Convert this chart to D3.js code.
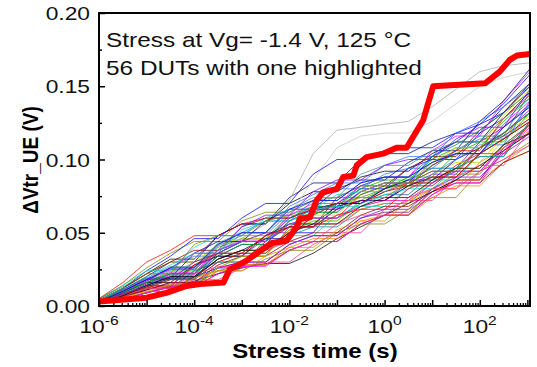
<!DOCTYPE html>
<html><head><meta charset="utf-8">
<script src="https://cdn.jsdelivr.net/npm/d3@7"></script>
<style>body{margin:0;background:#fff}svg text{font-family:"Liberation Sans",Arial,Helvetica,sans-serif}</style>
</head><body><svg id="c" width="537" height="367"></svg>
<script>
// Shared stress-time grid (s) for the 56 thin DUT traces
const times=[1e-6,3.162e-6,1e-5,3.162e-5,1e-4,3.162e-4,1e-3,3.162e-3,1e-2,3.162e-2,0.1,0.3162,1,3.162,10,31.62,100,316.2,1135];
// ΔVtr_UE of each DUT, in mV, at the grid times above
const dutValuesMV=[
[4,12,22,32,32,48,56,56,70,78,78,88,92,92,104,112,112,132,150],
[2,5,9,13,13,22,28,28,38,44,44,56,62,62,76,86,86,106,118],
[2,6,10,10,20,26,26,40,50,50,70,80,80,94,100,100,118,128,146],
[3,9,16,23,23,38,45,45,60,67,67,78,84,84,96,104,104,124,140],
[5,14,26,36,44,44,58,64,64,72,74,74,80,84,84,94,102,102,126],
[4,11,20,30,30,48,56,56,74,84,84,100,104,104,112,118,118,136,152],
[3,8,14,14,27,34,34,46,54,54,66,72,72,82,90,90,108,118,134],
[2,6,11,15,15,26,30,30,42,48,48,60,64,64,78,86,86,108,124],
[3,7,12,12,24,30,30,44,54,54,74,82,82,94,102,102,120,132,152],
[3,7,12,18,18,30,36,36,48,54,54,66,70,70,84,92,92,110,124],
[4,10,18,26,34,34,50,58,58,72,80,80,90,94,94,106,114,114,138],
[3,8,14,20,20,32,38,38,50,56,56,66,70,70,80,86,86,98,106],
[3,9,16,24,24,40,46,46,62,68,68,80,86,86,100,108,108,126,142],
[2,7,12,12,24,30,30,42,48,48,62,68,68,80,86,86,104,114,128],
[4,12,22,30,30,42,46,46,56,60,60,68,72,72,86,94,94,114,128],
[3,8,15,22,30,38,46,56,72,104,120,122,124,126,136,148,160,164,166],
[2,7,14,21,28,35,42,50,62,86,108,116,118,118,126,138,150,156,160],
[2,5,9,13,17,22,26,29,29,36,46,54,62,70,78,86,96,106,118],
[5,16,30,38,48,48,56,60,60,66,70,70,78,84,84,96,104,104,124],
[4,12,24,34,46,46,60,70,70,90,100,100,106,108,108,118,124,132,146],
[3,8,14,21,21,36,44,44,62,70,70,82,88,88,106,116,116,140,160],
[2,5,9,14,14,24,28,28,38,44,44,56,62,62,80,90,90,110,124],
[4,11,19,19,36,44,44,58,66,66,80,86,86,98,106,106,126,140,162],
[3,7,11,16,16,26,30,30,42,48,48,60,66,66,80,88,88,104,116],
[2,8,15,22,22,36,44,50,50,64,70,70,80,86,94,94,112,122,138],
[4,12,22,30,38,38,54,60,60,66,70,70,78,82,82,94,102,102,126],
[2,5,9,14,14,26,34,34,54,64,64,78,84,84,98,106,116,116,146],
[4,10,18,26,26,42,50,50,68,76,84,84,96,102,102,118,126,136,150],
[2,6,10,14,14,24,28,28,40,46,46,58,62,62,74,82,82,98,110],
[3,7,13,19,19,32,38,38,50,58,58,72,80,88,88,104,112,112,132],
[5,14,24,24,40,48,48,60,66,66,76,78,78,86,94,94,108,118,132],
[3,8,14,20,20,32,38,38,52,58,58,70,76,76,90,98,98,116,130],
[2,5,9,13,18,18,26,30,30,42,50,50,66,72,72,88,96,96,120],
[4,10,17,25,25,41,48,48,64,72,72,84,88,88,98,104,104,122,136],
[3,9,16,16,28,34,34,48,56,56,68,72,72,82,88,88,104,114,126],
[2,6,12,18,18,30,36,36,52,60,60,76,82,82,96,106,106,128,144],
[3,8,14,20,20,34,42,42,58,66,66,78,84,84,102,112,124,138,158],
[4,11,18,25,25,38,44,44,56,60,60,68,72,72,84,92,92,108,118],
[3,7,12,12,20,24,24,32,38,38,50,56,56,66,74,74,92,100,112],
[2,7,13,19,19,32,38,46,46,62,70,70,80,86,86,100,108,118,132],
[3,9,17,26,36,36,54,62,62,78,86,86,96,100,100,114,122,122,148],
[4,10,18,18,30,36,36,48,54,54,66,72,72,84,92,92,108,116,128],
[2,6,11,16,16,28,34,34,44,50,50,62,68,68,78,84,84,98,106],
[3,9,16,22,22,36,44,44,60,68,68,82,88,88,102,110,120,132,150],
[3,8,14,22,22,38,44,44,56,60,60,70,76,76,90,100,110,110,140],
[2,6,10,10,19,24,24,34,40,40,52,58,58,72,80,80,98,108,120],
[4,10,16,22,22,34,42,42,58,64,64,76,82,82,96,104,104,118,132],
[4,12,20,28,36,36,52,58,58,66,68,68,76,80,80,94,102,102,126],
[2,5,10,15,15,26,34,34,52,62,62,78,84,84,98,108,108,130,148],
[3,7,12,12,22,27,27,38,44,44,56,62,62,74,80,80,92,100,110],
[4,11,19,27,27,43,50,50,66,74,74,90,96,96,106,112,112,128,142],
[2,7,14,20,20,32,38,38,50,56,56,68,74,74,86,94,94,110,118],
[3,8,13,13,28,36,36,48,54,54,62,66,66,80,88,88,104,114,126],
[3,10,18,26,26,42,50,50,66,72,72,84,88,88,98,104,104,122,136],
[2,5,9,13,13,22,27,27,38,44,44,56,62,62,76,84,84,106,122],
[5,13,22,22,42,48,48,58,62,62,70,74,74,84,92,92,108,118,132]
];
// Highlighted DUT (thick red)
const redTimes=[1e-6,1e-5,2.6e-5,6.9e-5,1.3e-4,4.1e-4,5.6e-4,1.26e-3,2.8e-3,4.3e-3,8.7e-3,1.4e-2,1.66e-2,2.7e-2,3.7e-2,5.1e-2,0.1,0.135,0.22,0.26,0.42,0.93,1.78,2.9,6.5,10.5,129,263,427,603,1135];
const redValuesMV=[3,5.7,9,13.7,15,16,25,31,39,43,44.5,53.6,59.6,60.5,72,77.6,80,88,89,96,101.6,104,108,108,127,150,152,160,168,171,172];
// Axis ticks
const xMajorTicks=[1e-6,1e-5,1e-4,1e-3,1e-2,1e-1,1,1e1,1e2,1e3];
const xLabelTicks=[1e-6,1e-4,1e-2,1,1e2];
const xLabelExps=["-6","-4","-2","0","2"];
const yMajorTicks=[0,0.05,0.10,0.15,0.20];
const yTickLabels=["0.00","0.05","0.10","0.15","0.20"];
const yMinorTicks=[0.025,0.075,0.125,0.175];
const palette=["#000000","#ff0000","#0000ff","#ff00ff","#808000","#000080","#8000ff","#800080","#800000","#008080","#3070ff","#ff8000","#00b000","#00d0d0","#d0d000","#ff3090","#409090"];

const svg=d3.select("#c");
const L=99,R=530,T=13,B=306;
const x=d3.scaleLog().domain([1e-6,1135]).range([L,R]);
const y=d3.scaleLinear().domain([0,0.2]).range([B,T]);

svg.append("defs").append("clipPath").attr("id","clip").append("rect")
  .attr("x",L).attr("y",T).attr("width",R-L).attr("height",B-T);
const plot=svg.append("g").attr("clip-path","url(#clip)");
const line=d3.line().x(d=>x(d[0])).y(d=>y(d[1]/1000));

dutValuesMV.forEach((vals,i)=>{
  let col=palette[i%palette.length];
  if(i===15) col="#a8a8a8";
  if(i===16) col="#c8c8c8";
  plot.append("path").datum(times.map((t,k)=>[t,vals[k]]))
    .attr("d",line).attr("fill","none").attr("stroke",col)
    .attr("stroke-width",1).attr("stroke-opacity",0.75);
});
plot.append("path").datum(redTimes.map((t,k)=>[t,redValuesMV[k]]))
  .attr("d",line).attr("fill","none").attr("stroke","#ff0000")
  .attr("stroke-width",6).attr("stroke-linejoin","round");

// x minor ticks
const xMinor=[];
for(let e=-6;e<3;e++) for(let m=2;m<=9;m++) xMinor.push(m*Math.pow(10,e));
svg.append("g").attr("transform",`translate(0,${B})`)
  .call(d3.axisBottom(x).tickValues(xMinor.filter(v=>v<=1135)).tickSize(-3).tickFormat(""))
  .call(g=>g.select(".domain").remove())
  .call(g=>g.selectAll("line").attr("stroke","#000").attr("stroke-width",1.3));
svg.append("g").attr("transform",`translate(0,${B})`)
  .call(d3.axisBottom(x).tickValues(xMajorTicks).tickSize(-6).tickFormat(""))
  .call(g=>g.select(".domain").remove())
  .call(g=>g.selectAll("line").attr("stroke","#000").attr("stroke-width",1.5));
// y ticks
svg.append("g").attr("transform",`translate(${L},0)`)
  .call(d3.axisLeft(y).tickValues(yMinorTicks).tickSize(-3).tickFormat(""))
  .call(g=>g.select(".domain").remove())
  .call(g=>g.selectAll("line").attr("stroke","#000").attr("stroke-width",1.5));
svg.append("g").attr("transform",`translate(${L},0)`)
  .call(d3.axisLeft(y).tickValues(yMajorTicks).tickSize(-6).tickFormat(""))
  .call(g=>g.select(".domain").remove())
  .call(g=>g.selectAll("line").attr("stroke","#000").attr("stroke-width",1.5));

// frame
svg.append("rect").attr("x",L).attr("y",T).attr("width",R-L).attr("height",B-T)
  .attr("fill","none").attr("stroke","#000").attr("stroke-width",2);

// y tick labels
yMajorTicks.forEach((v,i)=>{
  svg.append("text").attr("transform",`translate(90,${y(v)+7}) scale(1.2,1)`)
    .attr("text-anchor","end").attr("font-size",19).attr("fill","#111").text(yTickLabels[i]);
});
// x tick labels
xLabelTicks.forEach((v,i)=>{
  const t=svg.append("text").attr("transform",`translate(${x(v)},333) scale(1.2,1)`)
    .attr("text-anchor","middle").attr("font-size",19).attr("fill","#111");
  t.append("tspan").text("10");
  t.append("tspan").attr("font-size",13).attr("dy",-8).text(xLabelExps[i]);
});
// axis titles
svg.append("text").attr("transform","translate(315,358) scale(1.2,1)")
  .attr("text-anchor","middle").attr("font-size",20).attr("font-weight","bold").text("Stress time (s)");
svg.append("text").attr("transform","translate(38,160) rotate(-90) scale(1,1.2)")
  .attr("text-anchor","middle").attr("font-size",19).attr("font-weight","bold").text("ΔVtr_UE (V)");
// annotation
svg.append("text").attr("transform","translate(106,47) scale(1.22,1)")
  .attr("font-size",20).attr("fill","#111").text("Stress at Vg= -1.4 V, 125 °C");
svg.append("text").attr("transform","translate(106,75) scale(1.22,1)")
  .attr("font-size",20).attr("fill","#111").text("56 DUTs with one highlighted");
</script></body></html>
